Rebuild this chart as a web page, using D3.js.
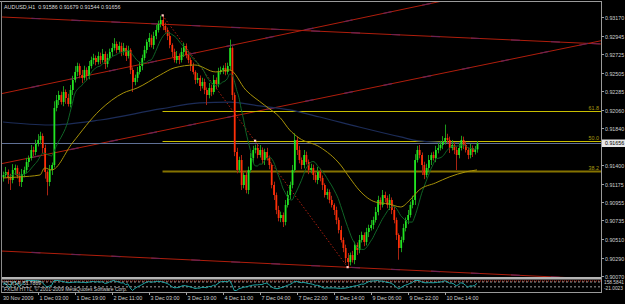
<!DOCTYPE html>
<html>
<head>
<meta charset="utf-8">
<script src="https://cdn.jsdelivr.net/npm/d3@7/dist/d3.min.js"></script>
<style>
  html, body { margin: 0; padding: 0; background: #000; }
  svg { display: block; font-family: "Liberation Sans", Arial, sans-serif; }
</style>
</head>
<body>
<svg id="chart" width="625" height="304"></svg>
<script>
var header = 'AUDUSD,H1  0.91586 0.91679 0.91544 0.91656';
var firstOpen = 0.91250;

// hourly closes
var closes = [
  0.91279, 0.91315, 0.91243, 0.91219, 0.91339, 0.91363, 0.91267, 0.91195, 0.91291, 0.91339,
  0.91434, 0.91482, 0.91578, 0.91554, 0.91650, 0.91698, 0.91746, 0.91602, 0.91315, 0.91195,
  0.91339, 0.91398, 0.92081, 0.92176, 0.92236, 0.92152, 0.92272, 0.92200, 0.92128, 0.92296,
  0.92416, 0.92512, 0.92583, 0.92476, 0.92440, 0.92536, 0.92464, 0.92583, 0.92655, 0.92679,
  0.92631, 0.92703, 0.92655, 0.92727, 0.92607, 0.92679, 0.92751, 0.92799, 0.92847, 0.92775,
  0.92823, 0.92751, 0.92799, 0.92703, 0.92775, 0.92536, 0.92392, 0.92440, 0.92512, 0.92583,
  0.92679, 0.92775, 0.92871, 0.92919, 0.92835, 0.92943, 0.93014, 0.93086, 0.93134, 0.93062,
  0.93014, 0.92943, 0.92835, 0.92751, 0.92655, 0.92703, 0.92655, 0.92751, 0.92823, 0.92715,
  0.92655, 0.92583, 0.92512, 0.92416, 0.92440, 0.92344, 0.92392, 0.92296, 0.92236, 0.92320,
  0.92272, 0.92416, 0.92368, 0.92512, 0.92536, 0.92560, 0.92512, 0.92583, 0.92799, 0.92236,
  0.91554, 0.91339, 0.91458, 0.91159, 0.91279, 0.91099, 0.91339, 0.91482, 0.91578, 0.91602,
  0.91518, 0.91578, 0.91458, 0.91554, 0.91482, 0.91398, 0.91159, 0.91039, 0.90860, 0.90764,
  0.90800, 0.90716, 0.90920, 0.91039, 0.91159, 0.91339, 0.91698, 0.91578, 0.91458, 0.91398,
  0.91518, 0.91434, 0.91339, 0.91363, 0.91279, 0.91219, 0.91315, 0.91243, 0.91159, 0.91039,
  0.91075, 0.90980, 0.90920, 0.90860, 0.90740, 0.90620, 0.90501, 0.90405, 0.90285, 0.90237,
  0.90321, 0.90261, 0.90441, 0.90381, 0.90501, 0.90561, 0.90477, 0.90596, 0.90644, 0.90680,
  0.90740, 0.90836, 0.90980, 0.90920, 0.91039, 0.91003, 0.90920, 0.90980, 0.90860, 0.90740,
  0.90561, 0.90405, 0.90501, 0.90644, 0.90740, 0.90800, 0.90920, 0.90980, 0.91458, 0.91578,
  0.91518, 0.91398, 0.91279, 0.91363, 0.91458, 0.91518, 0.91482, 0.91578, 0.91602, 0.91638,
  0.91674, 0.91722, 0.91698, 0.91602, 0.91638, 0.91578, 0.91518, 0.91602, 0.91698, 0.91638,
  0.91578, 0.91518, 0.91602, 0.91554, 0.91586, 0.91656
];

// wick lengths in pips above / below the body
var wickUp = [
  4,6,3,5,7,4,3,5,6,4, 5,3,6,4,5,7,5,3,4,2, 6,3,8,6,5,4,7,3,5,6, 5,7,4,3,6,5,3,6,4,5,
  3,5,4,6,3,5,4,6,7,3, 5,4,6,3,5,2,3,4,6,5, 4,5,3,6,4,5,6,4,5,6, 4,3,5,2,4,6,3,5,4,3,
  5,3,4,2,6,3,5,4,3,6, 4,6,3,5,4,3,6,4,10,2, 3,5,4,6,3,5,4,6,5,4, 5,6,3,4,5,3,2,4,3,5,
  4,3,6,5,4,6,8,4,5,3, 6,4,3,5,4,3,6,4,3,2, 4,3,5,2,4,3,5,3,4,6, 3,5,4,3,6,4,3,5,4,6,
  4,6,5,3,6,4,3,7,3,4, 3,2,4,5,3,6,4,5,7,5, 6,3,4,5,6,3,4,5,6,5, 7,16,5,4,6,3,4,6,5,4,
  4,3,5,3,4,3
];
var wickDn = [
  5,3,7,12,4,6,3,5,6,4, 4,6,3,5,4,3,5,6,8,16, 5,6,3,4,6,3,5,7,3,4, 6,3,5,4,6,3,5,4,3,5,
  4,3,5,3,6,4,3,5,3,4, 3,5,4,6,3,5,12,4,5,3, 5,3,4,6,3,5,4,3,4,5, 3,5,4,6,3,4,5,3,6,4,
  4,6,3,5,4,6,3,5,12,4, 5,3,6,4,3,5,4,3,5,6, 5,4,3,6,4,4,5,3,6,4, 4,3,5,6,3,5,4,6,5,4,
  5,6,4,3,5,4,3,6,4,5, 4,3,5,4,6,3,5,4,6,3, 5,4,3,6,5,4,3,5,6,6, 4,3,5,6,4,3,5,4,6,3,
  5,3,4,6,3,5,4,6,5,4, 6,14,5,3,4,5,3,4,6,3, 4,12,5,3,4,6,3,5,4,3, 5,3,4,6,3,5,18,4,3,5,
  3,5,4,6,3,4
];

var priceTicks = [0.93170, 0.92945, 0.92725, 0.92505, 0.92285, 0.92060, 0.91840,
  0.91400, 0.91175, 0.90955, 0.90735, 0.90510, 0.90290, 0.90070];
var bid = 0.91656;

var timeBars = [0, 15, 31, 47, 63, 79, 95, 111, 127, 143, 159, 175, 191];
var timeLabels = ['30 Nov 2009', '1 Dec 03:00', '1 Dec 19:00', '2 Dec 11:00', '3 Dec 03:00',
  '3 Dec 19:00', '4 Dec 11:00', '7 Dec 04:00', '7 Dec 22:00', '8 Dec 14:00', '9 Dec 06:00',
  '9 Dec 22:00', '10 Dec 14:00'];

// slow moving averages as drawn by the terminal [bar, price]
var olivePts = [[0,0.91243],[7,0.91255],[16,0.91279],[18,0.91363],[21,0.91339],[30,0.91662],
  [42,0.92057],[52,0.92260],[58,0.92320],[68,0.92476],[74,0.92560],[83,0.92595],[92,0.92512],
  [98,0.92536],[105,0.92296],[113,0.92117],[120,0.91961],[124,0.91817],[128,0.91722],
  [137,0.91614],[146,0.91398],[150,0.91243],[154,0.91099],[161,0.90956],[167,0.90932],
  [172,0.90896],[176,0.90980],[180,0.91099],[187,0.91183],[193,0.91255],[200,0.91315],[205,0.91339]];
var navyPts = [[0,0.91913],[20,0.91877],[42,0.91937],[68,0.92069],[85,0.92141],[98,0.92152],
  [111,0.92105],[124,0.92057],[137,0.91973],[154,0.91853],[172,0.91734],[180,0.91686],
  [190,0.91668],[205,0.91656]];

// trend lines, two anchors each [bar, price]
var channelLines = [
  [[0, 0.93169], [258.6, 0.92847]],
  [[0, 0.92256], [200, 0.93419]],
  [[0, 0.91418], [258.6, 0.92885]],
  [[0, 0.90368], [258.6, 0.90032]]
];
var fibFrom = [69, 0.93190];
var fibTo = [149, 0.90177];
var fibLevels = [61.8, 50.0, 38.2];
var marks = [[69, 0.93190], [109, 0.91690], [149, 0.90177]];

var cciLabel = 'CCI(14) 51.7889';
var copyLabel = 'FXCM HTTL, \u00a9 2001-2009 MetaQuotes Software Corp.';
var cciScaleLabels = ['158.5841', '-21.0023'];

var svg = d3.select('#chart');
var W = 625, H = 304;
var plotL = 2, plotR = 601, plotT = 2, plotB = 277;

svg.append('rect').attr('width', W).attr('height', H).attr('fill', '#000');

var x = d3.scaleLinear().domain([0, 205]).range([3, 477]);
var y = d3.scaleLinear().domain([0.90058, 0.93373]).range([277, 0]);

svg.append('defs').append('clipPath').attr('id', 'plot')
  .append('rect').attr('x', plotL).attr('y', plotT).attr('width', plotR - plotL).attr('height', plotB - plotT);

var g = svg.append('g').attr('clip-path', 'url(#plot)');

// candles
var bars = closes.map(function (c, i) {
  var o = i === 0 ? firstOpen : closes[i - 1];
  return {
    i: i, o: o, c: c,
    h: Math.max(o, c) + wickUp[i] * 0.0001,
    l: Math.min(o, c) - wickDn[i] * 0.0001
  };
});

// channel lines
var lineFor = function (a) {
  var k = (a[1][1] - a[0][1]) / (a[1][0] - a[0][0]);
  return [[-5, a[0][1] + k * (-5 - a[0][0])], [265, a[0][1] + k * (265 - a[0][0])]];
};
var seg = d3.line().x(function (d) { return x(d[0]); }).y(function (d) { return y(d[1]); });

channelLines.forEach(function (a) {
  var pts = lineFor(a);
  g.append('path').attr('d', seg(pts)).attr('stroke', '#b01e0c').attr('stroke-width', 1).attr('fill', 'none');
  g.append('path').attr('d', seg(pts)).attr('stroke', '#6c2252').attr('stroke-width', 1.2)
    .attr('stroke-dasharray', '9,31').attr('fill', 'none');
});

// fibonacci
var fibRange = fibFrom[1] - fibTo[1];
fibLevels.forEach(function (lv) {
  var p = fibTo[1] + fibRange * lv / 100;
  var yy = Math.round(y(p)) + 0.5;
  var ln = g.append('line').attr('x1', x(fibFrom[0])).attr('x2', plotR).attr('y1', yy).attr('y2', yy);
  if (lv === 38.2) {
    ln.attr('stroke', '#857300').attr('stroke-width', 2.2);
  } else {
    ln.attr('stroke', '#c8be00').attr('stroke-width', 1);
  }
  svg.append('text').attr('x', 599).attr('y', yy - 1.5).attr('text-anchor', 'end')
    .attr('font-size', 5.4).attr('fill', '#a89a10').text(lv.toFixed(1));
});
g.append('path').attr('d', seg([fibFrom, fibTo])).attr('stroke', '#b02010')
  .attr('stroke-width', 1).attr('stroke-dasharray', '1.5,2').attr('fill', 'none');

// moving averages
var curve = d3.line().curve(d3.curveMonotoneX)
  .x(function (d) { return x(d[0]); }).y(function (d) { return y(d[1]); });
g.append('path').attr('d', curve(navyPts)).attr('stroke', '#1c2c58').attr('stroke-width', 1.2).attr('fill', 'none');

// bid line
g.append('line').attr('x1', plotL).attr('x2', plotR).attr('y1', Math.round(y(bid)) + 0.5).attr('y2', Math.round(y(bid)) + 0.5)
  .attr('stroke', '#5f7096').attr('stroke-width', 1);

var fastMa = closes.map(function (c, i) {
  var s = closes.slice(Math.max(0, i - 9), i + 1);
  return [i, d3.mean(s)];
});

var candle = g.selectAll('.bar').data(bars).enter().append('g').attr('class', 'bar');
candle.append('line')
  .attr('x1', function (d) { return Math.round(x(d.i)) + 0.5; })
  .attr('x2', function (d) { return Math.round(x(d.i)) + 0.5; })
  .attr('y1', function (d) { return y(d.h); })
  .attr('y2', function (d) { return y(d.l); })
  .attr('stroke', function (d) { return d.c >= d.o ? '#1c9a1c' : '#a82412'; })
  .attr('stroke-width', 1);
candle.append('rect')
  .attr('x', function (d) { return x(d.i) - 0.4; })
  .attr('width', 1.8)
  .attr('y', function (d) { return y(Math.max(d.o, d.c)); })
  .attr('height', function (d) { return Math.max(1, Math.abs(y(d.o) - y(d.c))); })
  .attr('fill', function (d) { return d.c >= d.o ? '#22e622' : '#ff2f08'; });

g.append('path').attr('d', curve(fastMa)).attr('stroke', '#0f6426').attr('stroke-width', 1).attr('fill', 'none');
g.append('path').attr('d', curve(olivePts)).attr('stroke', '#a89208').attr('stroke-width', 1).attr('fill', 'none');

g.selectAll('.mark').data(marks).enter().append('rect')
  .attr('x', function (d) { return x(d[0]) - 1; })
  .attr('y', function (d) { return y(d[1]) - 1; })
  .attr('width', 2.2).attr('height', 2.2).attr('fill', '#ffd0c8');

// frame
svg.append('line').attr('x1', 0).attr('x2', plotR).attr('y1', 1.5).attr('y2', 1.5).attr('stroke', '#9a9a9a');
svg.append('line').attr('x1', 1.5).attr('x2', 1.5).attr('y1', 1).attr('y2', 293).attr('stroke', '#8a8a8a');
svg.append('line').attr('x1', plotR + 0.5).attr('x2', plotR + 0.5).attr('y1', 1).attr('y2', 293).attr('stroke', '#9a9a9a');
svg.append('rect').attr('x', 2).attr('y', 277).attr('width', plotR - 2).attr('height', 2.5).attr('fill', '#b4b4b4');
svg.append('line').attr('x1', 2).attr('x2', plotR).attr('y1', 292.5).attr('y2', 292.5).attr('stroke', '#9a9a9a');

// header
svg.append('text').attr('x', 4).attr('y', 8.5).attr('font-size', 5.4).attr('fill', '#dcdcdc')
  .attr('xml:space', 'preserve').style('white-space', 'pre').text(header);

// price axis
var axisG = svg.append('g');
priceTicks.forEach(function (p) {
  var yy = Math.round(y(p)) + 0.5;
  axisG.append('line').attr('x1', plotR).attr('x2', plotR + 3).attr('y1', yy).attr('y2', yy).attr('stroke', '#a0a0a0');
  axisG.append('text').attr('x', 605).attr('y', yy + 2).attr('font-size', 5.3).attr('fill', '#d0d0d0')
    .text(d3.format('.5f')(p));
});
var by = Math.round(y(bid));
axisG.append('rect').attr('x', 602).attr('y', by - 3.5).attr('width', 23).attr('height', 7.5).attr('fill', '#e8e8e8');
axisG.append('text').attr('x', 605).attr('y', by + 2.2).attr('font-size', 5.3).attr('fill', '#000')
  .text(d3.format('.5f')(bid));

// time axis
timeBars.forEach(function (b, k) {
  var xx = Math.round(x(b)) + 0.5;
  if (k > 0) {
    svg.append('line').attr('x1', xx).attr('x2', xx).attr('y1', 292).attr('y2', 295).attr('stroke', '#a0a0a0');
  }
  svg.append('text').attr('x', k === 0 ? 3 : xx + 1).attr('y', 300).attr('font-size', 5.4)
    .attr('fill', '#d0d0d0').text(timeLabels[k]);
});

// CCI sub window
var cci = bars.map(function (d, i) {
  var win = bars.slice(Math.max(0, i - 13), i + 1).map(function (b) { return (b.h + b.l + b.c) / 3; });
  var m = d3.mean(win);
  var md = d3.mean(win, function (t) { return Math.abs(t - m); }) || 1e-6;
  return [i, (win[win.length - 1] - m) / (0.015 * md)];
});
var yc = d3.scaleLinear().domain([-250, 160]).range([290.5, 280.5]).clamp(true);
var sub = svg.append('g');
sub.append('line').attr('x1', 2).attr('x2', plotR).attr('y1', 281).attr('y2', 281)
  .attr('stroke', '#c02818').attr('stroke-dasharray', '1,1');
[100, -100].forEach(function (lv) {
  sub.append('line').attr('x1', 2).attr('x2', plotR).attr('y1', yc(lv)).attr('y2', yc(lv))
    .attr('stroke', '#c8c8c8').attr('stroke-width', 0.8).attr('stroke-dasharray', '2,2');
});
sub.append('path').attr('d', d3.line().x(function (d) { return x(d[0]); }).y(function (d) { return yc(d[1]); })(cci))
  .attr('stroke', '#1fa6a6').attr('stroke-width', 1).attr('fill', 'none');
sub.append('text').attr('x', 4).attr('y', 285).attr('font-size', 5).attr('fill', '#d0d0d0').text(cciLabel);
sub.append('text').attr('x', 4).attr('y', 291).attr('font-size', 5).attr('fill', '#d0d0d0').text(copyLabel);
sub.append('text').attr('x', 604).attr('y', 284).attr('font-size', 4.8).attr('fill', '#d0d0d0').text(cciScaleLabels[0]);
sub.append('text').attr('x', 604).attr('y', 290).attr('font-size', 4.8).attr('fill', '#d0d0d0').text(cciScaleLabels[1]);
</script>
</body>
</html>
